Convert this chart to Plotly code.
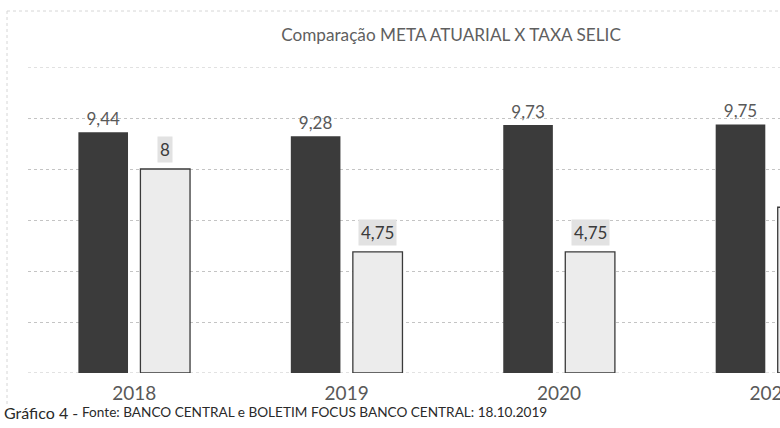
import plotly.graph_objects as go

# Data
anos = ["2018", "2019", "2020", "2021"]
meta_atuarial = [9.44, 9.28, 9.73, 9.75]
taxa_selic = [8, 4.75, 4.75, 6.5]

titulo = "Comparação META ATUARIAL X TAXA SELIC"
legenda_grafico = "Gráfico 4 -"
fonte = "Fonte: BANCO CENTRAL e BOLETIM FOCUS BANCO CENTRAL: 18.10.2019"

FONT = "Lato"
X_RANGE = [-0.5, 3.04]
Y_RANGE = [0, 12]

def fmt(v):
    s = f"{v:.2f}".rstrip("0").rstrip(".")
    return s.replace(".", ",")

fig = go.Figure()
fig.add_trace(go.Bar(
    x=anos, y=meta_atuarial, name="META ATUARIAL",
    marker=dict(color="#3b3b3b", line=dict(width=0)),
    text=[fmt(v) for v in meta_atuarial], textposition="outside",
    textfont=dict(family=FONT, size=17, color="#595959"),
    cliponaxis=False,
))
fig.add_trace(go.Bar(
    x=anos, y=taxa_selic, name="TAXA SELIC",
    marker=dict(color="#ececec", line=dict(width=1.3, color="#3a3a3a")),
    cliponaxis=True,
))

# labels with shaded box for SELIC bars (category axis -> index positions);
# the last one lies beyond the cropped right edge, as in the reference
for i, v in enumerate(taxa_selic):
    if i + 0.2 > X_RANGE[1]:
        continue
    fig.add_annotation(
        x=i, y=v, xref="x", yref="y", text=fmt(v), showarrow=False,
        xanchor="center", yanchor="bottom", xshift=31, yshift=6,
        bgcolor="#e2e2e2", borderpad=2,
        font=dict(family=FONT, size=17, color="#3a3a3a"),
    )

fig.update_layout(
    width=780, height=428,
    margin=dict(l=28, r=0, t=67, b=55, autoexpand=False),
    paper_bgcolor="white", plot_bgcolor="white",
    showlegend=False,
    barmode="group", bargap=0.416, bargroupgap=0.2,
    separators=",.",
    title=dict(text=titulo, x=0.5625, xref="paper", xanchor="center",
               y=1 - 35 / 428, yref="container", yanchor="middle",
               font=dict(family=FONT, size=17.2, color="#5f5f5f")),
    xaxis=dict(type="category", range=X_RANGE, showgrid=False, automargin=False,
               showline=False, ticks="", ticklabelstandoff=7,
               tickfont=dict(family=FONT, size=19, color="#595959")),
    yaxis=dict(range=Y_RANGE, tick0=0, dtick=2, showticklabels=False,
               automargin=False,
               showgrid=True, gridcolor="#c4c4c4", griddash="dot", gridwidth=1,
               zeroline=False, showline=False),
)

# gridlines at the range ends (plotly omits them at the plot edges)
for yv in Y_RANGE:
    fig.add_shape(type="line", xref="paper", yref="y", x0=0, x1=1, y0=yv, y1=yv,
                  layer="below", line=dict(color="#c4c4c4", width=1, dash="dot"))

# chart frame (faint, scanned border)
fig.add_shape(type="line", xref="paper", yref="paper",
              x0=(7 - 28) / 752, x1=1.0, y0=(373 - 11) / 306, y1=(373 - 11) / 306,
              line=dict(color="#d6d6d6", width=1, dash="dot"))
fig.add_shape(type="line", xref="paper", yref="paper",
              x0=(7 - 28) / 752, x1=(7 - 28) / 752, y0=(373 - 11) / 306, y1=(373 - 405) / 306,
              line=dict(color="#d6d6d6", width=1, dash="dot"))

# caption
fig.add_annotation(text=legenda_grafico, xref="paper", yref="paper",
                   x=(2 - 28) / 752, y=(373 - 412) / 306, xanchor="left", yanchor="middle",
                   showarrow=False, font=dict(family=FONT, size=16, color="#2a2a2a"))
fig.add_annotation(text=fonte, xref="paper", yref="paper",
                   x=(80 - 28) / 752, y=(373 - 412) / 306, xanchor="left", yanchor="middle",
                   showarrow=False, font=dict(family=FONT, size=13.6, color="#2a2a2a"))

fig.write_html("out.html", config={"displayModeBar": False},
               post_script="document.body.style.margin='0';")
